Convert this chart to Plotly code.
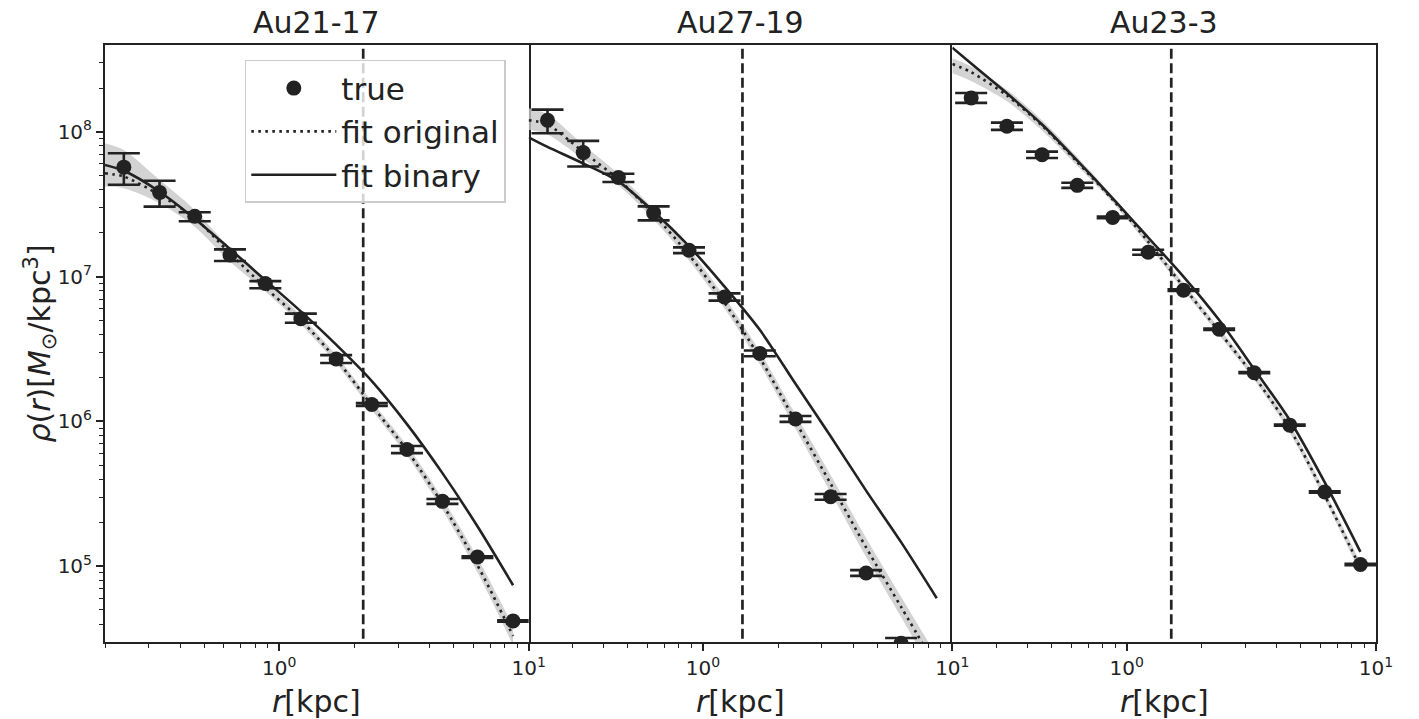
import math
import plotly.graph_objects as go
from plotly.subplots import make_subplots

# ---------------- data ----------------
halo_names = ["Au21-17", "Au27-19", "Au23-3"]

# radial bin centres of the "true" profile [kpc]
r_bins = [0.238, 0.331, 0.458, 0.634, 0.879, 1.22, 1.69, 2.35, 3.25, 4.51, 6.23, 8.66]
# radii at which the fitted profiles were drawn [kpc]
r_fit = [0.2, 0.238, 0.331, 0.458, 0.634, 0.879, 1.22, 1.69, 2.35, 3.25, 4.51, 6.23, 8.66]

# Au21-17
rho_true_1 = [5.69e7, 3.81e7, 2.61e7, 1.41e7, 8.96e6, 5.12e6, 2.70e6, 1.31e6, 6.40e5, 2.81e5, 1.16e5, 4.20e4]
rho_true_hi_1 = [7.10e7, 4.58e7, 2.78e7, 1.54e7, 9.30e6, 5.55e6, 2.87e6, 1.34e6, 6.77e5, 2.92e5, 1.175e5, 4.25e4]
rho_true_lo_1 = [4.30e7, 3.04e7, 2.41e7, 1.28e7, 8.30e6, 4.80e6, 2.53e6, 1.28e6, 6.05e5, 2.70e5, 1.145e5, 4.15e4]
fit_orig_1 = [5.16e7, 4.90e7, 3.66e7, 2.53e7, 1.445e7, 8.39e6, 5.01e6, 2.69e6, 1.29e6, 6.31e5, 2.69e5, 1.02e5, 3.31e4]
fit_orig_lo_1 = [4.18e7, 4.07e7, 3.21e7, 2.21e7, 1.27e7, 7.89e6, 4.68e6, 2.51e6, 1.20e6, 5.82e5, 2.45e5, 9.12e4, 2.85e4]
fit_orig_hi_1 = [8.32e7, 7.48e7, 4.65e7, 2.88e7, 1.57e7, 9.25e6, 5.37e6, 2.88e6, 1.38e6, 6.84e5, 2.95e5, 1.15e5, 3.85e4]
fit_bin_1 = [5.89e7, 5.37e7, 3.85e7, 2.51e7, 1.55e7, 9.44e6, 5.75e6, 3.39e6, 1.90e6, 9.59e5, 4.40e5, 1.89e5, 7.41e4]

# Au27-19
rho_true_2 = [1.20e8, 7.17e7, 4.83e7, 2.75e7, 1.52e7, 7.22e6, 2.95e6, 1.04e6, 3.02e5, 9.00e4, 2.95e4]
rho_true_hi_2 = [1.42e8, 8.63e7, 5.12e7, 3.05e7, 1.59e7, 7.65e6, 3.09e6, 1.09e6, 3.16e5, 9.42e4, 3.20e4]
rho_true_lo_2 = [9.75e7, 5.75e7, 4.49e7, 2.44e7, 1.45e7, 6.82e6, 2.82e6, 9.93e5, 2.88e5, 8.60e4, 2.72e4]
fit_orig_2 = [1.20e8, 1.12e8, 7.24e7, 4.68e7, 2.69e7, 1.41e7, 6.61e6, 2.75e6, 1.00e6, 3.72e5, 1.35e5, 5.25e4, 2.00e4]
fit_orig_lo_2 = [1.03e8, 9.55e7, 6.46e7, 4.27e7, 2.48e7, 1.29e7, 6.03e6, 2.48e6, 8.91e5, 3.24e5, 1.16e5, 4.47e4, 1.66e4]
fit_orig_hi_2 = [1.45e8, 1.32e8, 8.13e7, 5.13e7, 2.92e7, 1.55e7, 7.24e6, 3.05e6, 1.12e6, 4.27e5, 1.57e5, 6.17e4, 2.40e4]
fit_bin_2 = [9.14e7, 7.85e7, 6.03e7, 4.54e7, 2.81e7, 1.62e7, 8.53e6, 4.29e6, 1.82e6, 7.91e5, 3.33e5, 1.47e5, 6.03e4]

# Au23-3
rho_true_3 = [1.71e8, 1.09e8, 6.92e7, 4.26e7, 2.56e7, 1.47e7, 8.05e6, 4.33e6, 2.17e6, 9.43e5, 3.26e5, 1.03e5]
rho_true_hi_3 = [1.85e8, 1.155e8, 7.28e7, 4.44e7, 2.59e7, 1.53e7, 8.16e6, 4.38e6, 2.19e6, 9.52e5, 3.29e5, 1.04e5]
rho_true_lo_3 = [1.58e8, 1.029e8, 6.58e7, 4.09e7, 2.53e7, 1.415e7, 7.94e6, 4.28e6, 2.15e6, 9.34e5, 3.23e5, 1.02e5]
fit_orig_3 = [2.93e8, 2.57e8, 1.78e8, 1.10e8, 6.17e7, 3.39e7, 1.74e7, 8.51e6, 4.17e6, 2.04e6, 8.91e5, 3.09e5, 9.77e4]
fit_orig_lo_3 = [2.53e8, 2.24e8, 1.62e8, 1.02e8, 5.82e7, 3.24e7, 1.64e7, 8.04e6, 3.94e6, 1.93e6, 8.32e5, 2.88e5, 9.02e4]
fit_orig_hi_3 = [3.21e8, 2.82e8, 1.95e8, 1.20e8, 6.68e7, 3.59e7, 1.84e7, 9.02e6, 4.42e6, 2.16e6, 9.55e5, 3.31e5, 1.06e5]
fit_bin_3 = [3.80e8, 2.95e8, 1.84e8, 1.12e8, 6.31e7, 3.47e7, 1.86e7, 1.00e7, 5.01e6, 2.29e6, 1.02e6, 3.80e5, 1.26e5]

# radius of the vertical dashed marker in each panel [kpc]
r_marker = [2.17, 1.44, 1.51]

# axis ticks
x_tick_vals = [1, 10]
x_tick_text = ["10<sup>0</sup>", "10<sup>1</sup>"]
y_tick_vals = [1e5, 1e6, 1e7, 1e8]
y_tick_text = ["10<sup>5</sup>", "10<sup>6</sup>", "10<sup>7</sup>", "10<sup>8</sup>"]

# ---------------- figure ----------------
panels = [
    (rho_true_1, rho_true_hi_1, rho_true_lo_1, fit_orig_1, fit_orig_lo_1, fit_orig_hi_1, fit_bin_1),
    (rho_true_2, rho_true_hi_2, rho_true_lo_2, fit_orig_2, fit_orig_lo_2, fit_orig_hi_2, fit_bin_2),
    (rho_true_3, rho_true_hi_3, rho_true_lo_3, fit_orig_3, fit_orig_lo_3, fit_orig_hi_3, fit_bin_3),
]

DARK = "#222222"
FONT = "DejaVu Sans"
SMOOTH = 0.8

fig = make_subplots(rows=1, cols=3, shared_yaxes=True, horizontal_spacing=0)

for i, (rho, rho_hi, rho_lo, f_o, f_lo, f_hi, f_b) in enumerate(panels):
    col = i + 1
    first = i == 0
    # uncertainty band of the original fit
    fig.add_trace(go.Scatter(x=r_fit, y=f_hi, mode="lines",
                             line=dict(width=0, color="rgba(0,0,0,0)", shape="spline", smoothing=SMOOTH),
                             showlegend=False, hoverinfo="skip"), row=1, col=col)
    fig.add_trace(go.Scatter(x=r_fit, y=f_lo, mode="lines",
                             line=dict(width=0, color="rgba(0,0,0,0)", shape="spline", smoothing=SMOOTH),
                             fill="tonexty", fillcolor="rgba(200,200,200,0.8)",
                             showlegend=False, hoverinfo="skip"), row=1, col=col)
    # fit original (dotted)
    fig.add_trace(go.Scatter(x=r_fit, y=f_o, mode="lines", name="fit original",
                             line=dict(color=DARK, width=2.6, dash="2.6px,4.4px",
                                       shape="spline", smoothing=SMOOTH),
                             showlegend=first, legendrank=2), row=1, col=col)
    # fit binary (solid)
    fig.add_trace(go.Scatter(x=r_fit, y=f_b, mode="lines", name="fit binary",
                             line=dict(color=DARK, width=2.6, shape="spline", smoothing=SMOOTH),
                             showlegend=first, legendrank=3), row=1, col=col)
    # vertical dashed marker
    fig.add_trace(go.Scatter(x=[r_marker[i], r_marker[i]], y=[1e4, 1e9], mode="lines",
                             line=dict(color=DARK, width=2.7, dash="10px,4.5px"),
                             showlegend=False, hoverinfo="skip"), row=1, col=col)
    # true profile with error bars
    n = len(rho)
    err_plus = [rho_hi[k] - rho[k] for k in range(n)]
    err_minus = [rho[k] - rho_lo[k] for k in range(n)]
    fig.add_trace(go.Scatter(x=r_bins[:n], y=rho, mode="markers", name="true",
                             marker=dict(color=DARK, size=15),
                             error_y=dict(type="data", symmetric=False, array=err_plus,
                                          arrayminus=err_minus, color=DARK, thickness=2.6, width=16),
                             showlegend=first, legendrank=1), row=1, col=col)

x_minor = [0.2, 0.3, 0.4, 0.5, 0.6, 0.7, 0.8, 0.9, 2, 3, 4, 5, 6, 7, 8, 9]
y_minor = [m * 10 ** e for e in range(4, 9) for m in range(2, 10)]

for i in range(3):
    fig.update_xaxes(
        type="log", range=[math.log10(0.2), 1],
        showline=True, linecolor=DARK, linewidth=2, mirror=True,
        showgrid=False, zeroline=False,
        ticks="outside", ticklen=7, tickwidth=1.6, tickcolor=DARK,
        tickmode="array", tickvals=x_tick_vals, ticktext=x_tick_text,
        tickfont=dict(family=FONT, size=20, color=DARK),
        minor=dict(ticks="outside", ticklen=4, tickwidth=1.2, tickcolor=DARK,
                   tickvals=x_minor, showgrid=False),
        row=1, col=i + 1)

fig.update_yaxes(
    type="log", range=[4.478, 8.598],
    showline=True, linecolor=DARK, linewidth=2, mirror=True,
    showgrid=False, zeroline=False)
fig.update_yaxes(
    ticks="outside", ticklen=7, tickwidth=1.6, tickcolor=DARK,
    tickmode="array", tickvals=y_tick_vals, ticktext=y_tick_text,
    tickfont=dict(family=FONT, size=20, color=DARK),
    minor=dict(ticks="outside", ticklen=4, tickwidth=1.2, tickcolor=DARK,
               tickvals=y_minor, showgrid=False),
    row=1, col=1)
for c in (2, 3):
    fig.update_yaxes(showticklabels=False, ticks="", minor=dict(ticks=""), row=1, col=c)
# panel 2's borders are drawn by the neighbouring panels' y-axis lines
fig.update_yaxes(showline=False, row=1, col=2)

annotations = []
centers = [1 / 6, 0.5, 5 / 6]
for i, name in enumerate(halo_names):
    annotations.append(dict(text=name, x=centers[i], y=1, xref="paper", yref="paper",
                            xanchor="center", yanchor="middle", yshift=23, showarrow=False,
                            font=dict(family=FONT, size=30, color=DARK)))
    annotations.append(dict(text="<i>r</i>[kpc]", x=centers[i], y=0, xref="paper", yref="paper",
                            xanchor="center", yanchor="middle", yshift=-59, showarrow=False,
                            font=dict(family=FONT, size=30, color=DARK)))
annotations.append(dict(text="<i>ρ</i>(<i>r</i>)[<i>M</i><sub>⊙</sub>/kpc<sup>3</sup>]",
                        x=-0.0511, y=0.5, xref="paper", yref="paper", textangle=-90,
                        xanchor="center", yanchor="middle", showarrow=False,
                        font=dict(family=FONT, size=30, color=DARK)))

fig.update_layout(
    width=1419, height=719, autosize=False,
    margin=dict(l=105, r=43, t=45, b=77, pad=0),
    paper_bgcolor="white", plot_bgcolor="white",
    font=dict(family=FONT, color=DARK),
    annotations=annotations,
    legend=dict(x=0.110, y=0.975, xanchor="left", yanchor="top", traceorder="normal",
                bgcolor="rgba(255,255,255,0.8)", bordercolor="#cccccc", borderwidth=1.5,
                font=dict(family=FONT, size=31, color=DARK), itemwidth=85,
                tracegroupgap=0),
)

# remove the default 8 px page margin so the figure fills the window exactly
fig.write_html("out.html",
               config={"displayModeBar": False},
               post_script="document.body.style.margin='0px';document.body.style.overflow='hidden';")
